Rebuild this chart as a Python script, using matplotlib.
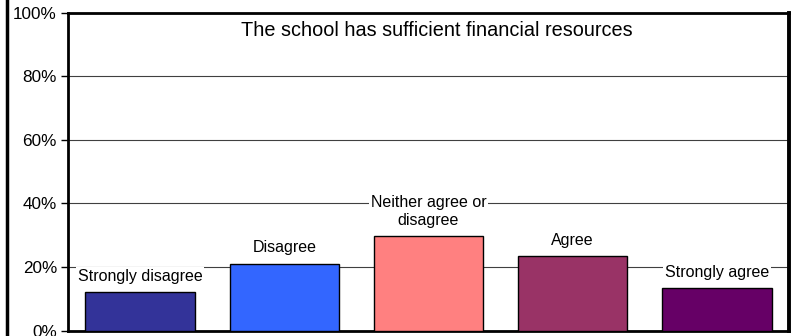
import matplotlib.pyplot as plt
from matplotlib.lines import Line2D

categories = ['Strongly disagree', 'Disagree', 'Neither agree or\ndisagree', 'Agree', 'Strongly agree']
values = [12.1, 21.0, 29.6, 23.4, 13.3]
colors = ['#333399', '#3366FF', '#FF8080', '#993366', '#660066']
yticks = [0, 20, 40, 60, 80, 100]
title = 'The school has sufficient financial resources'

fig = plt.figure(figsize=(7.97, 3.36), dpi=100)
ax = fig.add_axes([68 / 797, 5.4 / 336, 721 / 797, 318 / 336])

x = list(range(len(categories)))
bars = ax.bar(x, values, width=0.76, color=colors, edgecolor='black', linewidth=1, zorder=3)

ax.set_xlim(-0.5, len(categories) - 0.5)
ax.set_ylim(0, 100)
ax.set_yticks(yticks)
ax.set_yticklabels([f'{t}%' for t in yticks], fontsize=12.3, family='Liberation Sans')
ax.set_xticks([])
ax.tick_params(axis='y', length=5, width=1, direction='out', pad=3)
ax.yaxis.grid(True, color='#404040', linewidth=0.8, zorder=0)
ax.set_axisbelow(True)
for s in ax.spines.values():
    s.set_linewidth(2)
ax.spines['right'].set_linewidth(2.8)

for xi, v, lab in zip(x, values, categories):
    ax.annotate(lab, (xi, v), xytext=(0, 6), textcoords='offset points',
                ha='center', va='bottom', fontsize=11.5, family='Liberation Sans',
                linespacing=1.3, zorder=4,
                bbox=dict(boxstyle='square,pad=0.12', fc='white', ec='none'))

ax.text(0.512, 0.945, title, transform=ax.transAxes, ha='center', va='center',
        fontsize=14.3, family='Liberation Sans')

# figure left border
fig.add_artist(Line2D([6.5 / 797, 6.5 / 797], [0, 1], color='black', linewidth=2.5,
                      transform=fig.transFigure))

fig.savefig('out.png', dpi=100)
